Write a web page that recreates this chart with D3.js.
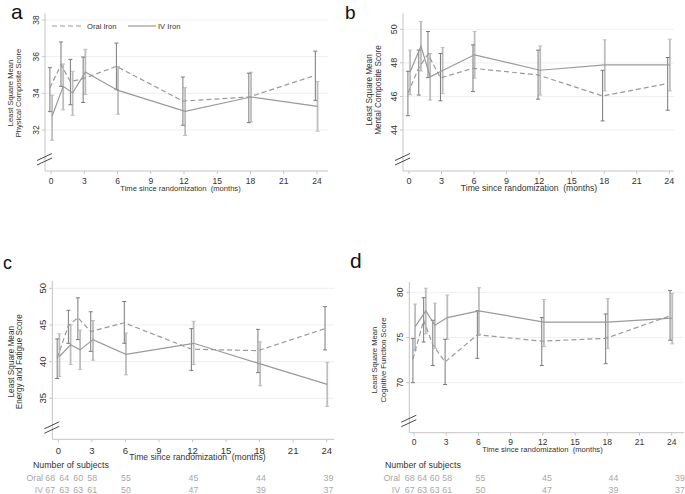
<!DOCTYPE html>
<html><head><meta charset="utf-8">
<script src="https://cdn.jsdelivr.net/npm/d3@7"></script>
<style>body{margin:0;background:#fff} svg{display:block;font-family:"Liberation Sans",Arial,sans-serif}</style>
</head><body><svg id="chart" width="685" height="494"></svg>
<script>
// ---------------- DATA ----------------
const timesOral = [-0.1, 0.9, 1.75, 2.9, 5.9, 11.9, 17.85, 23.85];
const timesIV   = [0.1, 1.1, 1.95, 3.1, 6.05, 12.1, 18.05, 24.05];
const xTickValues = [0, 3, 6, 9, 12, 15, 18, 21, 24];

// a: Physical Composite Score
const oralA   = [34.3, 35.56, 34.64, 34.8, 35.47, 33.58, 33.8, 34.98];
const oralALo = [33.0, 34.38, 33.38, 33.5, 34.2, 32.26, 32.4, 33.62];
const oralAHi = [35.4, 36.8, 35.85, 35.98, 36.74, 34.89, 35.1, 36.3];
const ivA     = [32.75, 34.38, 34.02, 35.16, 34.16, 33.02, 33.8, 33.29];
const ivALo   = [31.44, 33.1, 32.8, 33.93, 32.86, 31.7, 32.45, 31.93];
const ivAHi   = [33.9, 35.6, 35.2, 36.4, 35.46, 34.31, 35.15, 34.65];
const yTicksA = [32, 34, 36, 38];

// b: Mental Composite Score
const oralB   = [46.2, 47.7, 48.52, 47.1, 47.68, 47.28, 46.03, 46.77];
const oralBLo = [44.85, 46.08, 47.12, 45.74, 46.29, 45.84, 44.54, 45.18];
const oralBHi = [47.5, 48.76, 49.87, 48.56, 49.07, 48.76, 47.56, 48.32];
const ivB     = [47.45, 49.0, 47.17, 47.54, 48.48, 47.56, 47.88, 47.88];
const ivBLo   = [46.1, 47.52, 45.78, 46.17, 47.09, 46.08, 46.33, 46.33];
const ivBHi   = [48.76, 50.46, 48.56, 48.92, 49.87, 49.01, 49.37, 49.41];
const yTicksB = [44, 46, 48, 50];

// c: Energy and Fatigue Score
const oralC   = [40.5, 44.9, 46.0, 44.1, 45.3, 41.7, 41.5, 44.5];
const oralCLo = [37.7, 42.5, 43.0, 41.4, 42.5, 38.8, 38.5, 41.6];
const oralCHi = [43.1, 47.0, 48.7, 46.8, 48.2, 44.5, 44.4, 47.5];
const ivC     = [40.7, 42.3, 41.6, 43.0, 41.0, 42.5, 39.7, 36.9];
const ivCLo   = [37.95, 39.6, 38.9, 40.2, 38.2, 39.6, 36.7, 33.9];
const ivCHi   = [43.8, 45.0, 44.3, 45.6, 43.9, 45.5, 42.7, 39.9];
const yTicksC = [35, 40, 45, 50];

// d: Cognitive Function Score
const oralD   = [72.6, 76.9, 74.2, 72.3, 75.3, 74.6, 74.9, 77.4];
const oralDLo = [70.0, 74.5, 71.9, 69.8, 72.7, 71.9, 72.1, 74.7];
const oralDHi = [74.9, 79.4, 76.9, 74.8, 77.95, 77.2, 77.6, 80.2];
const ivD     = [76.2, 77.95, 76.35, 77.2, 77.95, 76.7, 76.7, 77.15];
const ivDLo   = [73.6, 75.4, 73.8, 74.8, 75.4, 74.0, 73.8, 74.3];
const ivDHi   = [78.7, 80.45, 78.8, 79.7, 80.5, 79.2, 79.3, 79.9];
const yTicksD = [70, 75, 80];

// Number of subjects
const subjectMonths = [0, 1, 2, 3, 6, 12, 18, 24];
const oralN = [68, 64, 60, 58, 55, 45, 44, 39];
const ivN   = [67, 63, 63, 61, 50, 47, 39, 37];

const seriesNames = ["Oral Iron", "IV Iron"];
const rowNames = ["Oral", "IV"];
const yTitleTop = "Least Square Mean";
const xTitle = "Time since randomization  (months)";

// ---------------- LAYOUT ----------------
const panels = [
  {label:"a", yTitle:"Physical Composite Score",
   oral:oralA, oralLo:oralALo, oralHi:oralAHi, iv:ivA, ivLo:ivALo, ivHi:ivAHi, yTicks:yTicksA,
   yDom:[32,38], yRng:[130,20], xRng:[51,317], axisX:45, right:328, top:13, bottom:171,
   tickFs:8.5, tickBase:184, titleFs:7.6, titleX:180.5, titleBase:190.5,
   labX:11, labBase:18.5, labFs:21, ytX:[12.5,20.5], ytY:93, ytFs:7.6, legend:true},
  {label:"b", yTitle:"Mental Composite Score",
   oral:oralB, oralLo:oralBLo, oralHi:oralBHi, iv:ivB, ivLo:ivBLo, ivHi:ivBHi, yTicks:yTicksB,
   yDom:[44,50], yRng:[130,29.3], xRng:[409,669.3], axisX:403, right:674, top:13, bottom:171,
   tickFs:9, tickBase:184, titleFs:8.6, titleX:529, titleBase:190.5,
   labX:345, labBase:18.5, labFs:19, ytX:[372,381], ytY:90, ytFs:8.2},
  {label:"c", yTitle:"Energy and Fatigue Score",
   oral:oralC, oralLo:oralCLo, oralHi:oralCHi, iv:ivC, ivLo:ivCLo, ivHi:ivCHi, yTicks:yTicksC,
   yDom:[35,50], yRng:[398.3,288.3], xRng:[58.3,326.7], axisX:52.3, right:334, top:281, bottom:439.3,
   tickFs:9.5, tickBase:454, titleFs:8.6, titleX:197.5, titleBase:460,
   labX:3, labBase:269, labFs:18, ytX:[13.5,22], ytY:361.7, ytFs:8.2,
   table:{tx:[58.5,328.5], lead:14, nameX:43, headX:33}},
  {label:"d", yTitle:"Cognitive Function Score",
   oral:oralD, oralLo:oralDLo, oralHi:oralDHi, iv:ivD, ivLo:ivDLo, ivHi:ivDHi, yTicks:yTicksD,
   yDom:[70,80], yRng:[382.7,292.3], xRng:[414,671.7], axisX:409.3, right:684, top:282, bottom:432.7,
   tickFs:8.5, tickBase:445, titleFs:7.6, titleX:542.5, titleBase:452,
   labX:350, labBase:268, labFs:21, ytX:[377,385.5], ytY:360, ytFs:7.6,
   table:{tx:[414,680], lead:12.5, nameX:400, headX:385}}
];

const lineColor = "#9a9a9a";
const oralBarColor = "#7a7a7a";
const ivBarColor = "#bdbdbd";
const axisColor = "#c4c4c4";
const gridColor = "#efefef";
const textColor = "#333";
const tableColor = "#a8a8a8";

const svg = d3.select("#chart");

panels.forEach(p => {
  const g = svg.append("g");
  const x = d3.scaleLinear().domain([0,24]).range(p.xRng);
  const y = d3.scaleLinear().domain(p.yDom).range(p.yRng);

  // gridlines
  g.selectAll(".grid").data(p.yTicks).join("line")
    .attr("x1", p.axisX).attr("x2", p.right)
    .attr("y1", d => y(d)).attr("y2", d => y(d))
    .attr("stroke", gridColor).attr("stroke-width", 1);

  // y axis
  g.append("line").attr("x1", p.axisX).attr("x2", p.axisX).attr("y1", p.top).attr("y2", p.bottom)
    .attr("stroke", axisColor).attr("stroke-width", 1);
  g.selectAll(".ytick").data(p.yTicks).join("line")
    .attr("x1", p.axisX - 3).attr("x2", p.axisX)
    .attr("y1", d => y(d)).attr("y2", d => y(d))
    .attr("stroke", axisColor);
  g.selectAll(".ylab").data(p.yTicks).join("text")
    .attr("transform", d => `translate(${p.axisX - 6},${y(d)}) rotate(-90)`)
    .attr("text-anchor", "middle")
    .attr("font-size", p.tickFs).attr("fill", textColor)
    .text(d => d);

  // break marks
  const by = p.bottom - 14;
  [0, 4.5].forEach(off => {
    g.append("line")
      .attr("x1", p.axisX - 8).attr("y1", by + off + 3.5)
      .attr("x2", p.axisX + 7).attr("y2", by + off - 3.5)
      .attr("stroke", "#333").attr("stroke-width", 0.9);
  });

  // x axis
  g.append("line").attr("x1", p.axisX).attr("x2", p.right).attr("y1", p.bottom).attr("y2", p.bottom)
    .attr("stroke", axisColor);
  g.selectAll(".xtick").data(xTickValues).join("line")
    .attr("x1", d => x(d)).attr("x2", d => x(d))
    .attr("y1", p.bottom).attr("y2", p.bottom + 3)
    .attr("stroke", axisColor);
  g.selectAll(".xlab").data(xTickValues).join("text")
    .attr("x", d => x(d)).attr("y", p.tickBase)
    .attr("text-anchor", "middle").attr("font-size", p.tickFs).attr("fill", textColor)
    .text(d => d);
  g.append("text").attr("x", p.titleX).attr("y", p.titleBase)
    .attr("text-anchor", "middle").attr("font-size", p.titleFs).attr("fill", textColor)
    .style("white-space", "pre").text(xTitle);

  // y title
  [yTitleTop, p.yTitle].forEach((t, i) => {
    g.append("text")
      .attr("transform", `translate(${p.ytX[i]},${p.ytY}) rotate(-90)`)
      .attr("text-anchor", "middle").attr("font-size", p.ytFs).attr("fill", textColor)
      .text(t);
  });

  // panel label
  g.append("text").attr("x", p.labX).attr("y", p.labBase)
    .attr("font-size", p.labFs).attr("fill", "#111").text(p.label);

  // error bars
  const drawBars = (times, lo, hi, color, w) => {
    const d = times.map((t, i) => ({t, lo: lo[i], hi: hi[i]}));
    g.selectAll(null).data(d).join("line")
      .attr("x1", e => x(e.t)).attr("x2", e => x(e.t))
      .attr("y1", e => y(e.lo)).attr("y2", e => y(e.hi))
      .attr("stroke", color).attr("stroke-width", w);
    ["lo","hi"].forEach(k => {
      g.selectAll(null).data(d).join("line")
        .attr("x1", e => x(e.t) - 2).attr("x2", e => x(e.t) + 2)
        .attr("y1", e => y(e[k])).attr("y2", e => y(e[k]))
        .attr("stroke", color).attr("stroke-width", 1);
    });
  };
  drawBars(timesIV, p.ivLo, p.ivHi, ivBarColor, 1.8);
  drawBars(timesOral, p.oralLo, p.oralHi, oralBarColor, 1);

  const line = d3.line().x(d => x(d[0])).y(d => y(d[1]));
  g.append("path").datum(timesOral.map((t, i) => [t, p.oral[i]]))
    .attr("d", line).attr("fill", "none").attr("stroke", lineColor)
    .attr("stroke-width", 1.2).attr("stroke-dasharray", "5,3");
  g.append("path").datum(timesIV.map((t, i) => [t, p.iv[i]]))
    .attr("d", line).attr("fill", "none").attr("stroke", lineColor)
    .attr("stroke-width", 1.2);

  // legend
  if (p.legend) {
    const ly = 26;
    g.append("line").attr("x1", 52).attr("x2", 82).attr("y1", ly).attr("y2", ly)
      .attr("stroke", lineColor).attr("stroke-width", 1.2).attr("stroke-dasharray", "5,3");
    g.append("text").attr("x", 87).attr("y", ly + 2.7).attr("font-size", 7.6).attr("fill", textColor).text(seriesNames[0]);
    g.append("line").attr("x1", 128).attr("x2", 156).attr("y1", ly).attr("y2", ly)
      .attr("stroke", lineColor).attr("stroke-width", 1.2);
    g.append("text").attr("x", 158).attr("y", ly + 2.7).attr("font-size", 7.6).attr("fill", textColor).text(seriesNames[1]);
  }

  // subjects table
  if (p.table) {
    const tx = d3.scaleLinear().domain([0,24]).range(p.table.tx);
    const posX = (m, i) => m <= 3 ? tx(3) - (3 - i) * p.table.lead : tx(m);
    g.append("text").attr("x", p.table.headX).attr("y", 467.5)
      .attr("font-size", 8.8).attr("fill", textColor).text("Number of subjects");
    [[oralN, 480.5], [ivN, 493]].forEach(([arr, yy], r) => {
      g.append("text").attr("x", p.table.nameX).attr("y", yy).attr("text-anchor", "end")
        .attr("font-size", 8.8).attr("fill", tableColor).text(rowNames[r]);
      g.selectAll(null).data(subjectMonths).join("text")
        .attr("x", (m, i) => posX(m, i)).attr("y", yy)
        .attr("text-anchor", "middle").attr("font-size", 8.8).attr("fill", tableColor)
        .text((m, i) => arr[i]);
    });
  }
});
</script></body></html>
